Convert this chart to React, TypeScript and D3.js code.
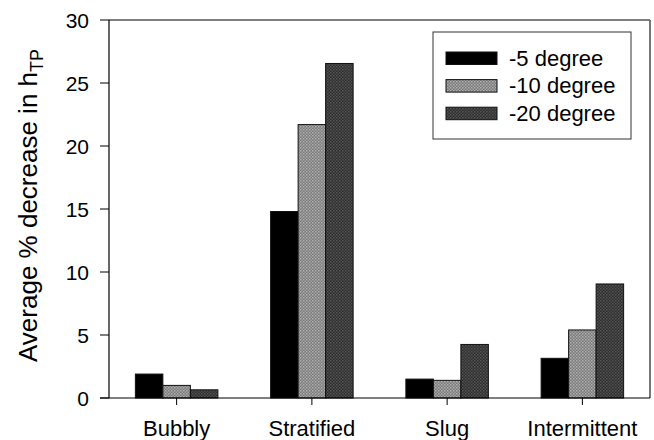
import React from "react";
import * as d3 from "d3";

const categories = ["Bubbly", "Stratified", "Slug", "Intermittent"];
const seriesNames = ["-5 degree", "-10 degree", "-20 degree"];
const deg5 = [1.9, 14.8, 1.5, 3.15];
const deg10 = [1.0, 21.7, 1.4, 5.4];
const deg20 = [0.65, 26.55, 4.25, 9.05];
const yTicks = [0, 5, 10, 15, 20, 25, 30];

const W = 654;
const H = 440;
const M = { left: 109, right: 650, top: 20, bottom: 398 };

export default function App() {
  const series = [deg5, deg10, deg20];
  const fills = ["#000000", "url(#pat10)", "url(#pat20)"];
  const x = d3
    .scaleBand<string>()
    .domain(categories)
    .range([M.left, M.right])
    .paddingInner(0.39)
    .paddingOuter(0.195);
  const xs = d3
    .scaleBand<number>()
    .domain([0, 1, 2])
    .range([0, x.bandwidth()]);
  const y = d3.scaleLinear().domain([0, 30]).range([M.bottom, M.top]);
  const font = "'Liberation Sans', Arial, sans-serif";

  return (
    <svg
      width={W}
      height={H}
      style={{ position: "absolute", left: 0, top: 0, background: "#fff" }}
    >
      <defs>
        <pattern id="pat10" width="3" height="3" patternUnits="userSpaceOnUse">
          <rect width="3" height="3" fill="#7a7a7a" />
          <rect x="0" y="0" width="1.5" height="1.5" fill="#b0b0b0" />
          <rect x="1.5" y="1.5" width="1.5" height="1.5" fill="#a0a0a0" />
        </pattern>
        <pattern id="pat20" width="3" height="3" patternUnits="userSpaceOnUse">
          <rect width="3" height="3" fill="#2e2e2e" />
          <rect x="0" y="0" width="1.5" height="1.5" fill="#555555" />
          <rect x="1.5" y="1.5" width="1.5" height="1.5" fill="#4a4a4a" />
        </pattern>
      </defs>

      {/* frame */}
      <line x1={M.left} x2={M.right} y1={M.top} y2={M.top} stroke="#555" strokeWidth={1.6} />
      <line x1={M.right} x2={M.right} y1={M.top} y2={M.bottom} stroke="#555" strokeWidth={1.6} />

      {/* bars */}
      {categories.map((c, i) =>
        series.map((s, j) => (
          <rect
            key={c + j}
            x={(x(c) as number) + (xs(j) as number)}
            y={y(s[i])}
            width={xs.bandwidth()}
            height={M.bottom - y(s[i])}
            fill={fills[j]}
            stroke="#111"
            strokeWidth={1}
          />
        ))
      )}

      {/* y axis */}
      <line x1={M.left} x2={M.left} y1={M.top} y2={M.bottom} stroke="#000" strokeWidth={1.2} />
      {yTicks.map((t) => (
        <g key={t}>
          <line x1={M.left - 9} x2={M.left} y1={y(t)} y2={y(t)} stroke="#000" strokeWidth={1} />
          <text
            x={M.left - 20}
            y={y(t)}
            dy="0.36em"
            textAnchor="end"
            fontFamily={font}
            fontSize={21}
            fill="#000"
          >
            {t}
          </text>
        </g>
      ))}

      {/* x axis */}
      <line x1={M.left - 9} x2={M.right} y1={M.bottom} y2={M.bottom} stroke="#000" strokeWidth={1.2} />
      {categories.map((c) => {
        const cx = (x(c) as number) + x.bandwidth() / 2;
        return (
          <g key={c}>
            <line x1={cx} x2={cx} y1={M.bottom} y2={M.bottom + 7} stroke="#000" strokeWidth={1} />
            <text
              x={cx}
              y={436}
              textAnchor="middle"
              fontFamily={font}
              fontSize={22}
              fill="#000"
            >
              {c}
            </text>
          </g>
        );
      })}

      {/* y label */}
      <text
        transform={`translate(37, 362) rotate(-90)`}
        textAnchor="start"
        fontFamily={font}
        fontSize={26}
        fill="#000"
      >
        Average % decrease in h
        <tspan fontSize={18} dy={6}>TP</tspan>
      </text>

      {/* legend */}
      <rect x={433} y={32} width={198} height={107} fill="#fff" stroke="#333" strokeWidth={1} />
      {seriesNames.map((n, j) => (
        <g key={n}>
          <rect
            x={446}
            y={52 + j * 27.6}
            width={51}
            height={12.5}
            fill={fills[j]}
            stroke="#111"
            strokeWidth={1}
          />
          <text
            x={509}
            y={65.5 + j * 27.6}
            fontFamily={font}
            fontSize={22}
            fill="#000"
          >
            {n}
          </text>
        </g>
      ))}
    </svg>
  );
}
